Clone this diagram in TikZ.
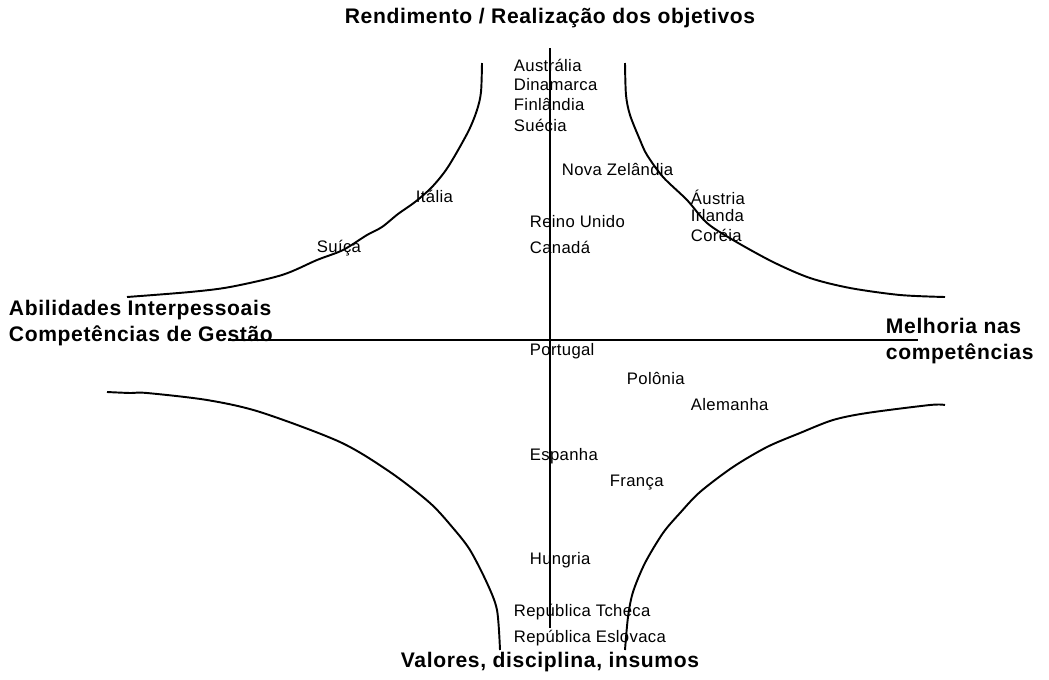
\documentclass[tikz,border=0pt]{standalone}
\usepackage{fontspec}
\setmainfont{Liberation Sans}
\newfontfamily\boldspaced[LetterSpace=3]{Liberation Sans}
\newfontfamily\countryspaced[LetterSpace=2]{Liberation Sans}
\usetikzlibrary{positioning}

\begin{document}
\begin{tikzpicture}[x=0.02cm,y=-0.02cm,line width=1.1pt,
  country/.style={anchor=west,inner sep=0pt,font=\countryspaced\fontsize{9.5}{11}\selectfont},
  axis label/.style={inner sep=0pt,align=left,font=\boldspaced\fontsize{12}{15.3}\selectfont\bfseries}]

  \useasboundingbox (0,0) rectangle (1049,680);

  % axes
  \coordinate (top) at (550,48);
  \coordinate (bottom) at (550,628);
  \coordinate (left) at (228,340);
  \coordinate (right) at (918,340);
  \draw (top) -- (bottom);
  \draw (left) -- (right);

  % axis labels
  \node[axis label] (rend) at (550,18) {Rendimento / Realização dos objetivos};
  \node[axis label,anchor=west] (abil) at (8,323) {Abilidades Interpessoais\\Competências de Gestão};
  \node[axis label,anchor=west] (melh) at (885,341) {Melhoria nas\\competências};
  \node[axis label] (valo) at (550,662) {Valores, disciplina, insumos};

  % curves
  \draw plot[smooth] coordinates {(482,63) (481,92) (477,110) (468,132) (448,167)
    (432,187) (415,202) (398,214) (382,227) (367,235) (343,250) (317,260)
    (282,275) (230,287) (190,292) (127,297)};
  \draw plot[smooth] coordinates {(625,63) (626,95) (630,115) (640,140) (647,155)
    (663,177) (687,200) (707,223) (733,240) (773,262) (810,278) (850,288)
    (900,295) (945,297)};
  \draw plot[smooth] coordinates {(107,392) (130,393) (147,393) (207,400) (260,412)
    (340,442) (390,472) (430,503) (453,528) (470,550) (487,583) (497,610) (500,650)};
  \draw plot[smooth] coordinates {(945,405) (930,405) (867,413) (833,420) (800,433)
    (767,447) (733,467) (700,492) (680,513) (663,533) (645,563) (633,592)
    (628,617) (625,650)};

  % countries
  \node[country] (aus) at (513,65) {Austrália};
  \node[country] (din) at (513,85) {Dinamarca};
  \node[country] (fin) at (513,105) {Finlândia};
  \node[country] (sue) at (513,125) {Suécia};
  \node[country] (nze) at (561,170) {Nova Zelândia};
  \node[country] (ita) at (415,196) {Itália};
  \node[country] (ost) at (690,197) {Áustria};
  \node[country] (irl) at (690,216) {Irlanda};
  \node[country] (cor) at (690,235) {Coréia};
  \node[country] (reu) at (529,222) {Reino Unido};
  \node[country] (sui) at (316,248) {Suíça};
  \node[country] (can) at (529,247) {Canadá};
  \node[country] (por) at (529,351) {Portugal};
  \node[country] (pol) at (626,378) {Polônia};
  \node[country] (ale) at (690,405) {Alemanha};
  \node[country] (esp) at (529,456) {Espanha};
  \node[country] (fra) at (609,483) {França};
  \node[country] (hun) at (529,560) {Hungria};
  \node[country] (tch) at (513,612) {República Tcheca};
  \node[country] (esl) at (513,638) {República Eslovaca};
\end{tikzpicture}
\end{document}
